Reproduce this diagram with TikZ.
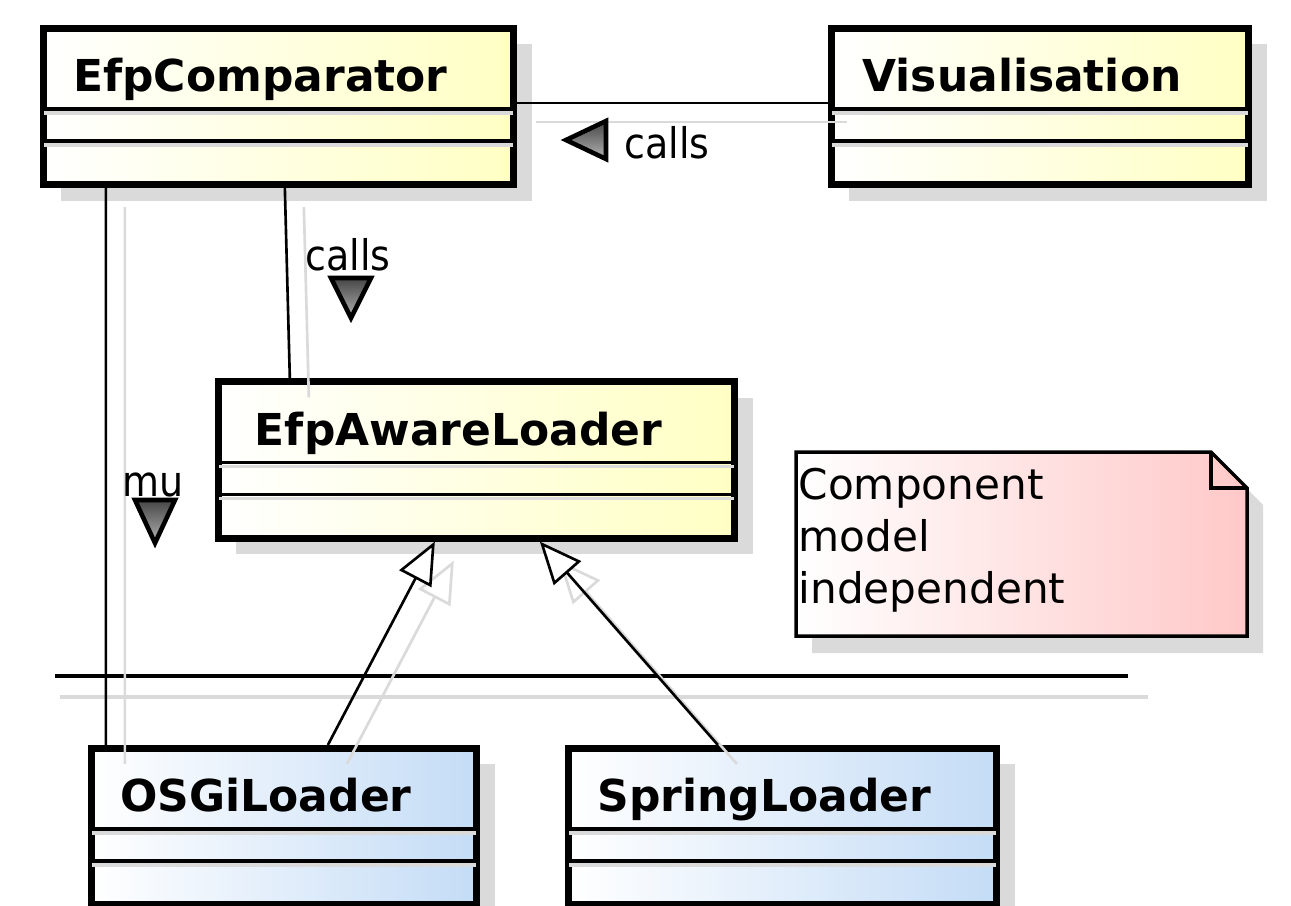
\documentclass[tikz,border=0pt]{standalone}
\usepackage{fontspec}
\setmainfont{DejaVu Sans}
\newfontfamily\condfont{DejaVu Sans Condensed}
\usepackage{tikz}
\usetikzlibrary{calc,shadows,arrows.meta}

\definecolor{classyellow}{RGB}{255,255,196}
\definecolor{classblue}{RGB}{196,220,246}
\definecolor{notepink}{RGB}{255,200,200}
\definecolor{shadowgray}{RGB}{218,218,218}

\tikzstyle{umlclass} = [draw, line width=2pt, inner sep=0pt, minimum height=1.56cm,
  left color=white, right color=classyellow,
  general shadow={fill=shadowgray, shadow xshift=0.18cm, shadow yshift=-0.16cm}]
\tikzstyle{bluebox} = [umlclass, left color=white, right color=classblue]
\tikzstyle{classname} = [font=\bfseries\fontsize{12.5}{15}\selectfont, inner sep=0pt, anchor=base]
\tikzstyle{compline} = [draw, line width=0.9pt]
\tikzstyle{compshade} = [draw=shadowgray, line width=0.9pt]
\tikzstyle{link} = [draw, line width=0.75pt]
\tikzstyle{linkshadow} = [draw=shadowgray, line width=0.75pt,
  transform canvas={shift={(0.19cm,-0.19cm)}}]
\tikzstyle{gen} = [-{Triangle[fill=white, length=0.42cm, width=0.36cm, line width=0.75pt]}]
\tikzstyle{linklabel} = [font=\condfont\fontsize{12}{14}\selectfont, inner sep=0pt]
\tikzstyle{dirmark} = [draw=black, line width=1.3pt, line join=miter,
  top color=gray!55!black, bottom color=gray!60]
\tikzstyle{notetext} = [font=\fontsize{12}{14.8}\selectfont, align=left, inner sep=0pt]

\begin{document}
\begin{tikzpicture}[x=0.01cm, y=-0.01cm]
  \clip (0,0) rectangle (1291,905);
  \fill[white] (0,0) rectangle (1291,905);

  % classes
  \node[umlclass, minimum width=4.70cm] (cmp) at (278.5,106.5) {};
  \node[umlclass, minimum width=4.17cm] (vis) at (1040,106.5) {};
  \node[umlclass, minimum width=5.16cm] (eal) at (476.5,460) {};
  \node[bluebox, minimum width=3.85cm] (osgi) at (284,826.5) {};
  \node[bluebox, minimum width=4.28cm] (spr) at (782.5,826.5) {};

  \foreach \c/\t in {cmp/EfpComparator, vis/Visualisation, eal/EfpAwareLoader,
                     osgi/OSGiLoader, spr/SpringLoader} {
    \draw[compshade] ($(\c.north west)+(4,88)$) -- ($(\c.north east)+(-4,88)$);
    \draw[compshade] ($(\c.north west)+(4,120)$) -- ($(\c.north east)+(-4,120)$);
    \draw[compline] ($(\c.north west)+(0,84)$) -- ($(\c.north east)+(0,84)$);
    \draw[compline] ($(\c.north west)+(0,116)$) -- ($(\c.north east)+(0,116)$);
    \node[classname] (\c title) at ($(\c.north)+(-18,67)$) {\t};
  }

  % note
  \coordinate (nNW) at (796,452);
  \coordinate (nNE) at (1211,452);
  \coordinate (nE) at (1247,488);
  \coordinate (nSE) at (1247,636);
  \coordinate (nSW) at (796,636);
  \coordinate (nFold) at (1211,488);
  \fill[shadowgray, transform canvas={shift={(0.16cm,-0.17cm)}}]
    (nNW) -- (nNE) -- (nE) -- (nSE) -- (nSW) -- cycle;
  \path[draw, line width=1pt, left color=white, right color=notepink]
    (nNW) -- (nNE) -- (nE) -- (nSE) -- (nSW) -- cycle;
  \draw[line width=1pt] (nNE) -- (nFold) -- (nE);
  \node[notetext, anchor=north west] (notetxt) at (798,467) {Component\\model\\independent};

  % separator
  \coordinate (sepL) at (55,676);
  \coordinate (sepR) at (1128,676);
  \draw[shadowgray, line width=1pt] (60,697) -- (1148,697);
  \draw[line width=1.2pt] (sepL) -- (sepR);

  % associations
  \draw[linkshadow] ($(cmp.north east)+(0,78)$) -- ($(vis.north west)+(0,78)$);
  \draw[link] ($(cmp.north east)+(0,78)$) -- ($(vis.north west)+(0,78)$);
  \draw[linkshadow] ($(cmp.south west)+(245,0)$) -- ($(eal.north west)+(75,0)$);
  \draw[link] ($(cmp.south west)+(245,0)$) -- ($(eal.north west)+(75,0)$);
  \draw[linkshadow] ($(cmp.south west)+(66,0)$) -- ($(osgi.north west)+(18,0)$);
  \draw[link] ($(cmp.south west)+(66,0)$) -- ($(osgi.north west)+(18,0)$);

  % generalizations
  \draw[linkshadow, gen] ($(osgi.north west)+(240,0)$) -- ($(eal.south west)+(220,0)$);
  \draw[linkshadow, gen] ($(spr.north west)+(153,0)$) -- ($(eal.south west)+(325,0)$);
  \draw[link, gen] ($(osgi.north west)+(240,0)$) -- ($(eal.south west)+(220,0)$);
  \draw[link, gen] ($(spr.north west)+(153,0)$) -- ($(eal.south west)+(325,0)$);

  % labels
  \node[linklabel] (callsH) at (667,143) {calls};
  \node[linklabel] (callsV) at (348,255) {calls};
  \node[linklabel] (muL) at (153,485) {mu};
  \shade[dirmark] (566,140) -- (606,121) -- (606,159) -- cycle;
  \shade[dirmark] (331,278) -- (371,278) -- (351,318) -- cycle;
  \shade[dirmark] (135,500) -- (175,500) -- (155,543) -- cycle;
\end{tikzpicture}
\end{document}
